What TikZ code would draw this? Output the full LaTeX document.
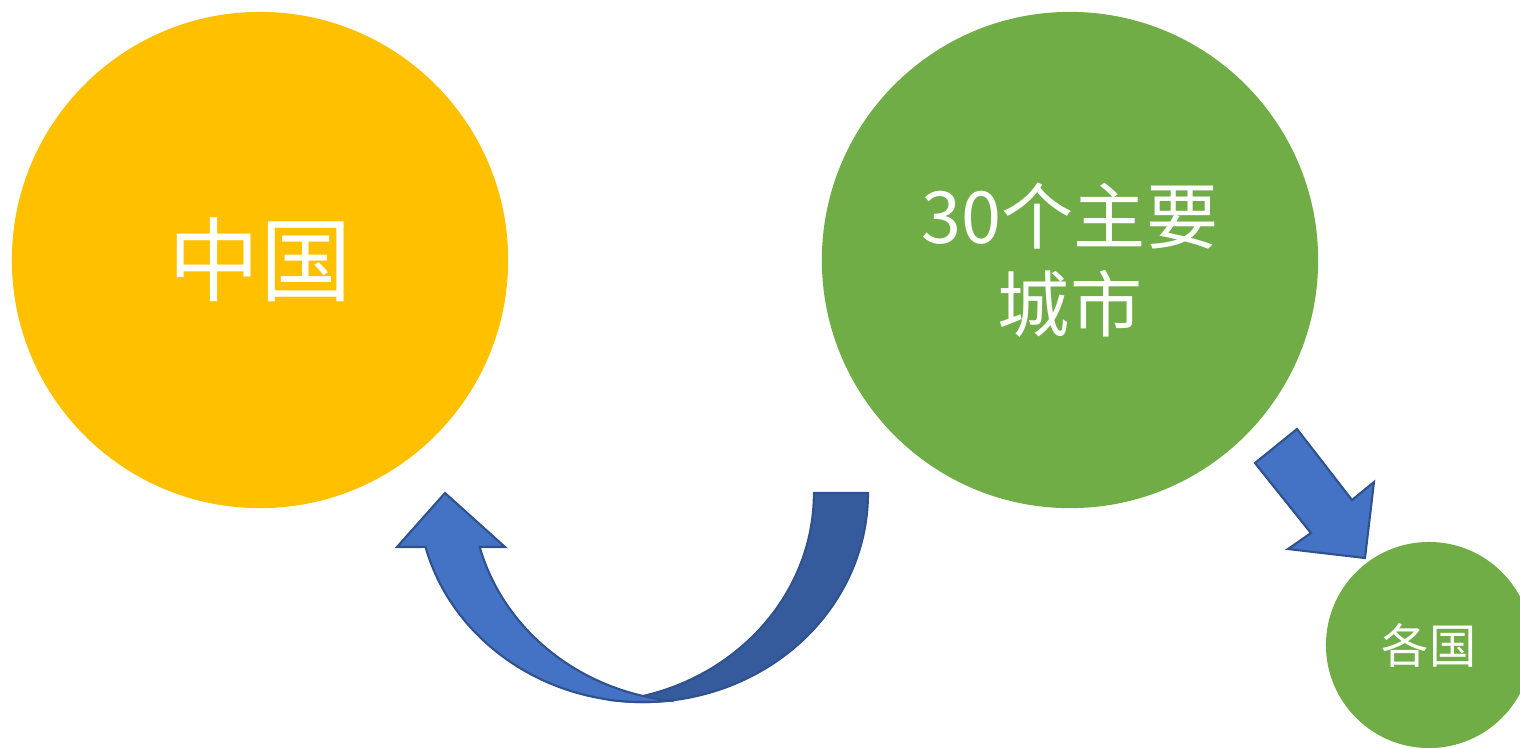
\documentclass[tikz,border=0pt]{standalone}
\usepackage{fontspec}
\setmainfont{Noto Sans CJK SC}
\newfontfamily\cjk{Noto Sans CJK SC}
\definecolor{cyellow}{HTML}{FFC000}
\definecolor{cgreen}{HTML}{70AD47}
\definecolor{cblue}{HTML}{4472C4}
\definecolor{cbluedark}{HTML}{365B9D}
\definecolor{cedge}{HTML}{2F528F}
\tikzset{
  bubble/.style={circle, inner sep=0pt, outer sep=0pt, text=white, align=center},
  arrowshape/.style={draw=cedge, line width=0.6pt, line join=miter},
}
\begin{document}
\begin{tikzpicture}[x=0.01cm,y=0.01cm]
\useasboundingbox (0,0) rectangle (1520,-747);
\clip (0,0) rectangle (1520,-747);
% circles
\node[bubble, fill=cyellow, minimum size=4.96cm, font=\cjk\fontsize{26}{30}\selectfont] (china) at (260,-260) {中国};
\node[bubble, fill=cgreen, minimum size=4.96cm, font=\cjk\fontsize{20.5}{25}\selectfont] (cities) at (1070,-260) {30个主要\\城市};
\node[bubble, fill=cgreen, minimum size=2.06cm, font=\cjk\fontsize{13.4}{16}\selectfont] (countries) at (1429,-645) {各国};
% curved arrow: dark back part (outer ellipse A centred at x=643, inner ellipse B centred at x=589)
\path[arrowshape, fill=cbluedark] (868,-493)
  arc[start angle=0, end angle=-96.9, x radius=2.25cm, y radius=2.09cm]
  arc[start angle=-83.1, end angle=0, x radius=2.25cm, y radius=2.09cm]
  -- cycle;
% curved arrow: light front part with head (outer ellipse A, inner ellipse C centred at x=697)
\path[arrowshape, fill=cblue] (670,-700.5)
  arc[start angle=-83.1, end angle=-165.03, x radius=2.25cm, y radius=2.09cm]
  -- (397,-547) -- (445,-493) -- (505,-547) -- (479.7,-547)
  arc[start angle=-165.03, end angle=-96.9, x radius=2.25cm, y radius=2.09cm]
  -- cycle;
% straight arrow towards the small circle
\path[arrowshape, fill=cblue] (1255,-463) -- (1297,-429) -- (1352,-500) -- (1374,-482)
  -- (1365,-558) -- (1288,-549) -- (1311,-533) -- cycle;
\end{tikzpicture}
\end{document}
